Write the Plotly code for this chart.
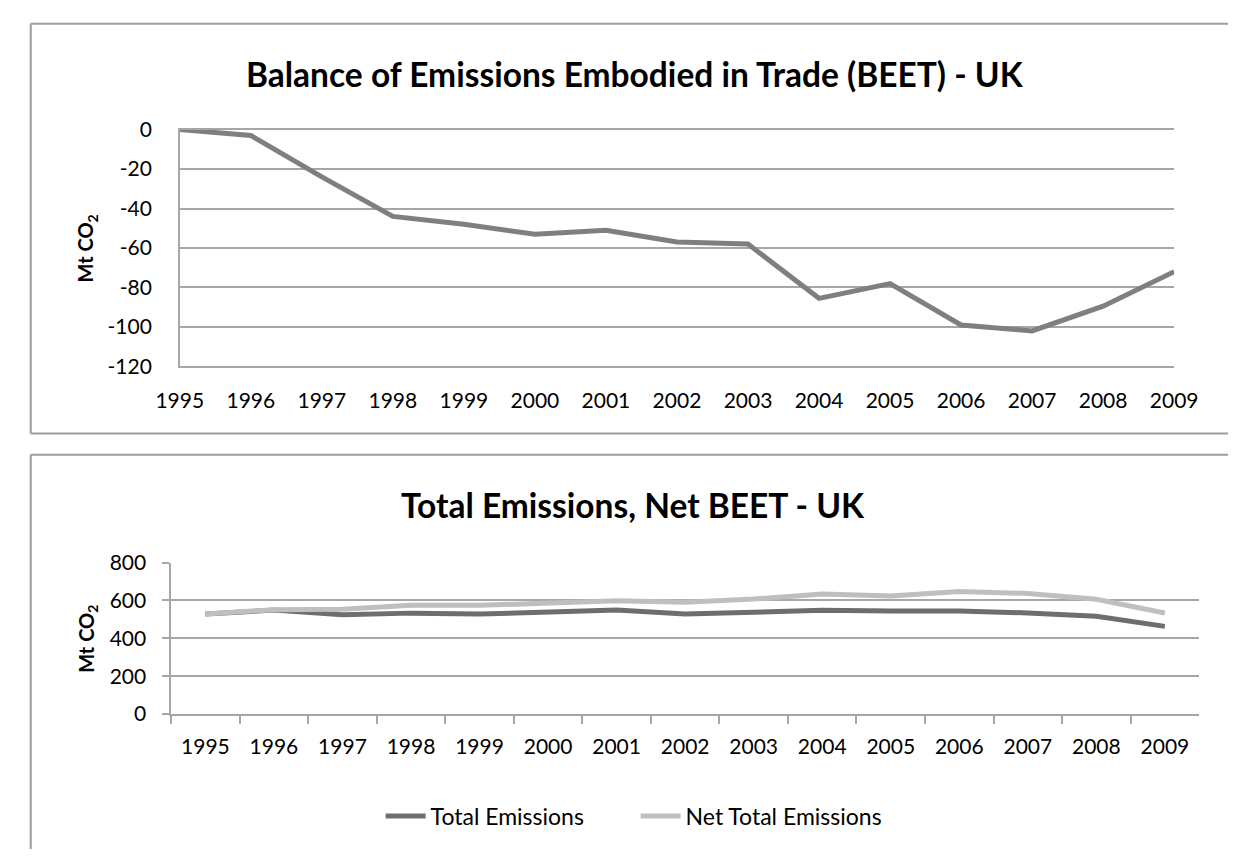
import plotly.graph_objects as go

# Data (Mt CO2)
years = [1995, 1996, 1997, 1998, 1999, 2000, 2001, 2002, 2003, 2004, 2005, 2006, 2007, 2008, 2009]
beet = [0, -3, -24, -44, -48, -53, -51, -57, -58, -85.5, -78, -99, -102, -89.5, -72]
total_emissions = [528, 549, 524, 533, 528, 536, 549, 528, 541, 548, 544, 544, 534, 516, 463]
net_total_emissions = [528, 551, 553, 574, 574, 584, 599, 591, 607, 634, 624, 647, 637, 606, 534]

top_ticks = [0, -20, -40, -60, -80, -100, -120]
top_ticktext = ["0", "-20", "-40", "-60", "-80", "-100", "-120"]
bottom_ticks = [0, 200, 400, 600, 800]

top_title = "Balance of Emissions Embodied in Trade (BEET) - UK"
bottom_title = "Total Emissions, Net BEET - UK"
y_title = "Mt CO<sub>2</sub>"

W, H = 1252, 860
FONT = "Lato"
GRID = "#a6a6a6"
BORDER = "#9c9c9c"


def px(x):
    return x / W


def py(y):
    return 1 - y / H


fig = go.Figure()

fig.add_trace(go.Scatter(
    x=years, y=beet, mode="lines", xaxis="x", yaxis="y",
    line=dict(color="#7f7f7f", width=5), showlegend=False,
))
cats = [str(y) for y in years]
fig.add_trace(go.Scatter(
    x=cats, y=total_emissions, mode="lines", xaxis="x2", yaxis="y2",
    name="Total Emissions", line=dict(color="#6e6e6e", width=5),
))
fig.add_trace(go.Scatter(
    x=cats, y=net_total_emissions, mode="lines", xaxis="x2", yaxis="y2",
    name="Net Total Emissions", line=dict(color="#bfbfbf", width=5),
))

tickfont = dict(family=FONT, size=21, color="#000000")

fig.update_layout(
    width=W, height=H,
    margin=dict(l=0, r=0, t=0, b=0),
    paper_bgcolor="white", plot_bgcolor="white",
    font=dict(family=FONT, color="#000000"),
    xaxis=dict(
        domain=[px(162), px(1196)], anchor="y",
        range=[1995, 2009], tickmode="array", tickvals=years,
        ticktext=[str(y) for y in years],
        showgrid=False, zeroline=False,
        showline=True, mirror=True, linecolor=GRID, linewidth=1.5,
        ticks="", tickfont=tickfont, ticklabelstandoff=15,
    ),
    yaxis=dict(
        domain=[py(363), py(119)], anchor="x",
        range=[-120, 0], tickmode="array", tickvals=top_ticks, ticktext=top_ticktext,
        showgrid=True, gridcolor=GRID, gridwidth=1.5,
        zeroline=False, showline=True, linecolor=GRID, linewidth=1.5,
        ticks="", tickfont=tickfont, ticklabelstandoff=22,
    ),
    xaxis2=dict(
        domain=[px(153), px(1222)], anchor="y2",
        type="category", categoryorder="array", categoryarray=cats,
        range=[-0.5, len(cats) - 0.5], tickson="boundaries",
        showgrid=False, zeroline=False, showline=True,
        linecolor=GRID, linewidth=1.5,
        ticks="outside", ticklen=8, tickcolor=GRID, tickwidth=1.5,
        tickfont=tickfont, ticklabelstandoff=13,
    ),
    yaxis2=dict(
        domain=[py(721), py(565)], anchor="x2",
        range=[0, 800], tickmode="array", tickvals=bottom_ticks,
        showgrid=True, gridcolor=GRID, gridwidth=1.5,
        zeroline=False, showline=True, linecolor=GRID, linewidth=1.5,
        ticks="outside", ticklen=7, tickcolor=GRID, tickwidth=1.5,
        tickfont=tickfont, ticklabelstandoff=12,
    ),
    legend=dict(
        orientation="h", x=px(636), xanchor="center", y=py(826), yanchor="middle",
        font=dict(family=FONT, size=23, color="#000000"),
        bgcolor="rgba(0,0,0,0)", itemwidth=40, entrywidth=200,
    ),
    showlegend=True,
)

# Panel frames
frame = dict(type="line", xref="paper", yref="paper", line=dict(color=BORDER, width=2))
shapes = [
    dict(frame, x0=px(7), x1=1, y0=py(10), y1=py(10)),
    dict(frame, x0=px(7), x1=px(7), y0=py(10), y1=py(432)),
    dict(frame, x0=px(7), x1=1, y0=py(432), y1=py(432)),
    dict(frame, x0=px(7), x1=1, y0=py(454), y1=py(454)),
    dict(frame, x0=px(7), x1=px(7), y0=py(454), y1=0),
]
fig.update_layout(shapes=shapes)

annotations = [
    dict(text=f"<b>{top_title}</b>", x=px(635), y=py(62), xref="paper", yref="paper",
         showarrow=False, xanchor="center", yanchor="middle",
         font=dict(family=FONT, size=33.5, color="#000000")),
    dict(text=f"<b>{bottom_title}</b>", x=px(633), y=py(506), xref="paper", yref="paper",
         showarrow=False, xanchor="center", yanchor="middle",
         font=dict(family=FONT, size=33.5, color="#000000")),
    dict(text=f"<b>{y_title}</b>", x=px(66), y=py(241), xref="paper", yref="paper",
         showarrow=False, textangle=-90, xanchor="center", yanchor="middle",
         font=dict(family=FONT, size=20, color="#000000")),
    dict(text=f"<b>{y_title}</b>", x=px(66), y=py(643), xref="paper", yref="paper",
         showarrow=False, textangle=-90, xanchor="center", yanchor="middle",
         font=dict(family=FONT, size=20, color="#000000")),
]
fig.update_layout(annotations=annotations)

fig.write_html("out.html")
